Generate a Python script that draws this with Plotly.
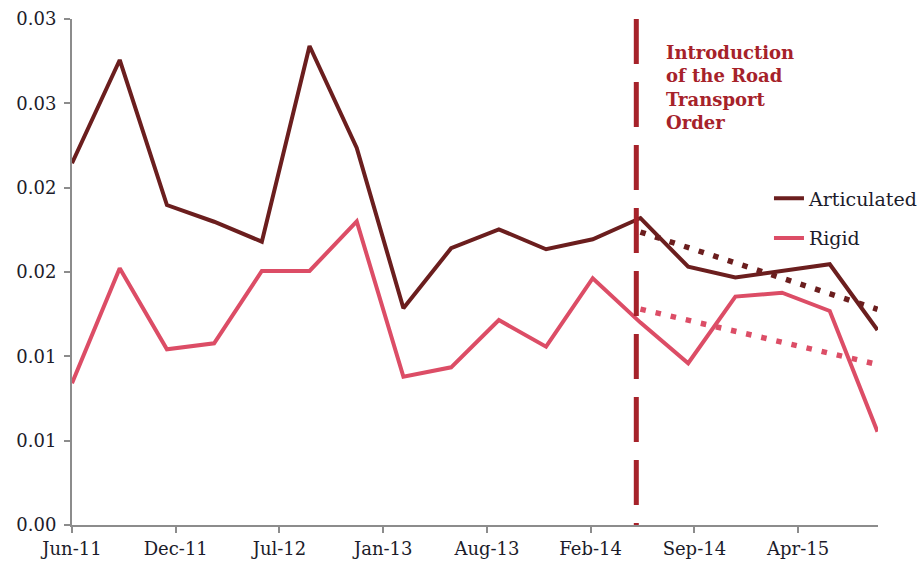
import plotly.graph_objects as go

# ---- data ----
quarters = ["2011-06-01", "2011-09-01", "2011-12-01", "2012-03-01", "2012-06-01", "2012-09-01",
            "2012-12-01", "2013-03-01", "2013-06-01", "2013-09-01", "2013-12-01", "2014-03-01",
            "2014-06-01", "2014-09-01", "2014-12-01", "2015-03-01", "2015-06-01", "2015-09-01"]
articulated = [0.02145, 0.02757, 0.01897, 0.01798, 0.01680, 0.02840, 0.02235, 0.01285, 0.01641,
               0.01753, 0.01635, 0.01694, 0.01820, 0.01531, 0.01468, 0.01506, 0.01546, 0.01156]
rigid = [0.00840, 0.01522, 0.01042, 0.01077, 0.01506, 0.01506, 0.01800, 0.00879, 0.00935,
         0.01215, 0.01057, 0.01463, 0.01200, 0.00959, 0.01354, 0.01377, 0.01269, 0.00553]

trend_dates = ["2014-06-01", "2015-09-01"]
articulated_trend = [0.01737, 0.01279]
rigid_trend = [0.01280, 0.00952]

intro_date = "2014-05-24"
intro_text = "Introduction<br>of the Road<br>Transport<br>Order"

x_tickvals = ["2011-06-01", "2011-12-18", "2012-07-05", "2013-01-21",
              "2013-08-09", "2014-02-25", "2014-09-13", "2015-04-01"]
x_ticktext = ["Jun-11", "Dec-11", "Jul-12", "Jan-13", "Aug-13", "Feb-14", "Sep-14", "Apr-15"]
y_tickvals = [0.0, 0.005, 0.010, 0.015, 0.020, 0.025, 0.030]
y_ticktext = ["0.00", "0.01", "0.01", "0.02", "0.02", "0.03", "0.03"]

# ---- styles ----
ART_COLOR = "#6B1E1E"
RIG_COLOR = "#DC4D66"
INTRO_COLOR = "#A6222A"
AXIS_COLOR = "#8C8C8C"
FONT = "DejaVu Serif"

fig = go.Figure()

fig.add_trace(go.Scatter(x=trend_dates, y=articulated_trend, mode="lines",
                         line=dict(color=ART_COLOR, width=5.5, dash="5.5px,9.8px"),
                         showlegend=False, hoverinfo="skip"))
fig.add_trace(go.Scatter(x=trend_dates, y=rigid_trend, mode="lines",
                         line=dict(color=RIG_COLOR, width=5.5, dash="5.5px,10px"),
                         showlegend=False, hoverinfo="skip"))

fig.add_trace(go.Scatter(x=quarters, y=articulated, mode="lines", name="Articulated",
                         legendgroup="a", line=dict(color=ART_COLOR, width=4)))
fig.add_trace(go.Scatter(x=quarters, y=rigid, mode="lines", name="Rigid",
                         legendgroup="r", line=dict(color=RIG_COLOR, width=4)))

fig.add_shape(type="line", xref="x", yref="paper", x0=intro_date, x1=intro_date, y0=1, y1=0,
              line=dict(color=INTRO_COLOR, width=5, dash="45px,18px"))

fig.add_annotation(xref="paper", yref="paper", x=0.735, y=0.958, xanchor="left", yanchor="top",
                   text="<b>" + intro_text + "</b>", showarrow=False, align="left",
                   font=dict(family=FONT, size=18, color=INTRO_COLOR))

fig.update_layout(
    width=923, height=565,
    margin=dict(l=72, r=45, t=19, b=40, autoexpand=False),
    paper_bgcolor="white", plot_bgcolor="white",
    font=dict(family=FONT, size=18, color="#1c1c2a"),
    showlegend=True,
    legend=dict(x=1.0558, y=0.683, xanchor="right", yanchor="top",
                traceorder="grouped", tracegroupgap=12,
                bgcolor="rgba(0,0,0,0)", font=dict(family=FONT, size=19, color="#1c1c2a")),
    xaxis=dict(type="date", range=["2011-06-01", "2015-09-02"], automargin=False,
               tickmode="array", tickvals=x_tickvals, ticktext=x_ticktext,
               showgrid=False, zeroline=False, showline=True, linecolor=AXIS_COLOR, linewidth=2,
               ticks="outside", ticklen=6, tickcolor=AXIS_COLOR, tickwidth=1.5,
               tickfont=dict(family=FONT, size=18)),
    yaxis=dict(range=[0, 0.03], automargin=False, ticklabelstandoff=4,
               tickmode="array", tickvals=y_tickvals, ticktext=y_ticktext,
               showgrid=False, zeroline=False, showline=True, linecolor=AXIS_COLOR, linewidth=2,
               ticks="outside", ticklen=6, tickcolor=AXIS_COLOR, tickwidth=1.5,
               tickfont=dict(family=FONT, size=18)),
)

fig.write_html("out.html", config={"displayModeBar": False},
               post_script="document.body.style.margin='0px';")
